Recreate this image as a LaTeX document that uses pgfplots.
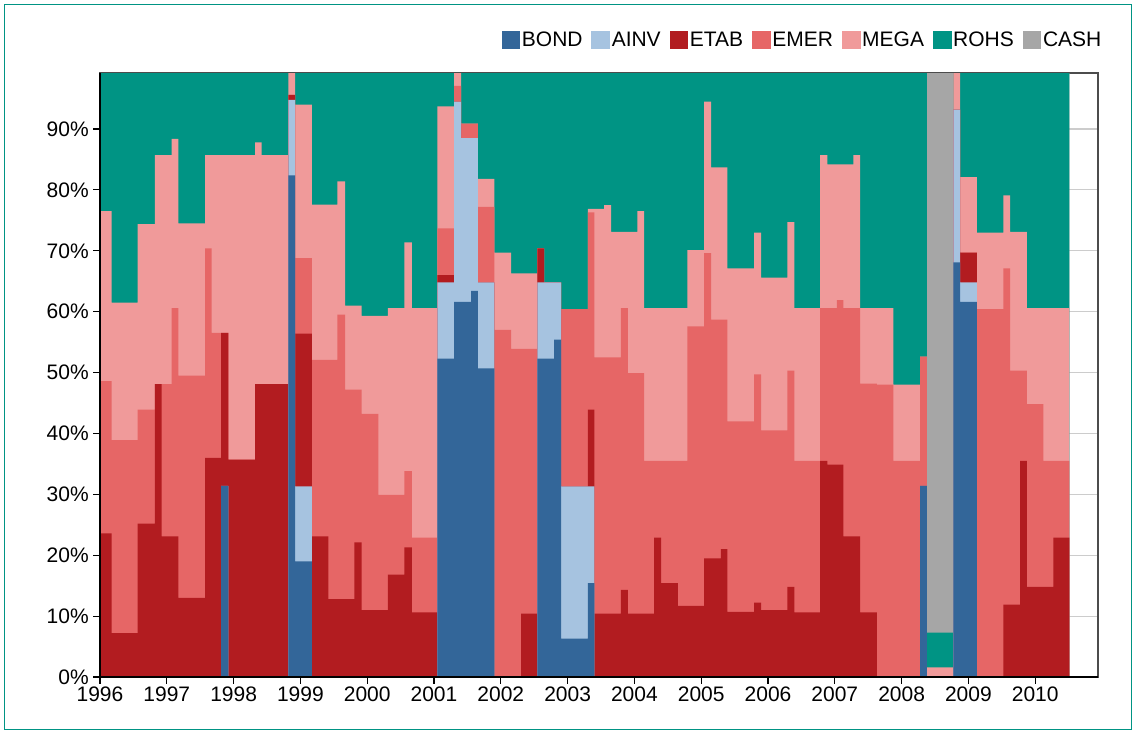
\documentclass[border=0pt]{standalone}
\usepackage{fontspec}
\setmainfont{Liberation Sans}
\usepackage{pgfplots}
\usepackage{pgfplotstable}
\pgfplotsset{compat=1.18}
\definecolor{cBOND}{RGB}{51,102,153}
\definecolor{cAINV}{RGB}{166,195,224}
\definecolor{cETAB}{RGB}{178,28,32}
\definecolor{cEMER}{RGB}{230,102,102}
\definecolor{cMEGA}{RGB}{240,154,154}
\definecolor{cROHS}{RGB}{0,148,132}
\definecolor{cCASH}{RGB}{166,166,166}

\pgfplotstableread{
x        bond ainv etab emer mega rohs cash
1996.000 0    0    23.6 25.0 27.9 23.5 0
1996.175 0    0    7.2  31.7 22.6 38.5 0
1996.564 0    0    25.2 18.7 30.5 25.6 0
1996.823 0    0    48.1 0    37.6 14.3 0
1996.924 0    0    23.1 25.0 37.6 14.3 0
1997.074 0    0    23.1 37.5 27.8 11.6 0
1997.172 0    0    13.0 36.5 25.0 25.5 0
1997.572 0    0    36.0 34.4 15.3 14.3 0
1997.672 0    0    36.0 20.5 29.2 14.3 0
1997.812 31.4 0    25.1 0    29.2 14.3 0
1997.921 0    0    35.7 0    50.0 14.3 0
1998.321 0    0    48.1 0    39.7 12.2 0
1998.421 0    0    48.1 0    37.6 14.3 0
1998.819 82.4 12.4 0.8  0    4.4  0    0
1998.920 19.0 12.3 25.1 12.4 25.2 6.0  0
1999.170 0    0    23.1 29.0 25.5 22.4 0
1999.418 0    0    12.8 39.3 25.5 22.4 0
1999.553 0    0    12.8 46.7 21.9 18.6 0
1999.668 0    0    12.8 34.4 13.8 39.0 0
1999.807 0    0    22.1 25.1 13.8 39.0 0
1999.918 0    0    11.0 32.2 16.1 40.7 0
2000.167 0    0    11.0 18.9 29.4 40.7 0
2000.308 0    0    16.8 13.1 30.7 39.4 0
2000.556 0    0    21.3 12.5 37.6 28.6 0
2000.667 0    0    10.6 12.3 37.7 39.4 0
2001.050 52.3 12.5 1.2  7.7  20.0 6.3  0
2001.300 61.6 32.9 0    2.6  2.9  0    0
2001.405 61.6 26.9 0    2.4  0    9.1  0
2001.555 63.4 25.1 0    2.4  0    9.1  0
2001.655 50.7 14.1 0    12.4 4.6  18.2 0
2001.904 0    0    0    57.0 12.7 30.3 0
2002.154 0    0    0    53.9 12.4 33.7 0
2002.303 0    0    10.4 43.5 12.4 33.7 0
2002.547 52.3 12.5 5.6  0    0    29.6 0
2002.648 52.3 12.5 0    0    0    35.2 0
2002.797 55.4 9.4  0    0    0    35.2 0
2002.902 6.3  25.0 0    29.1 0    39.6 0
2003.302 15.4 15.9 12.6 32.4 0.6  23.1 0
2003.401 0    0    10.4 42.1 24.4 23.1 0
2003.546 0    0    10.4 42.1 25.0 22.5 0
2003.651 0    0    10.4 42.1 20.6 26.9 0
2003.796 0    0    14.3 46.3 12.5 26.9 0
2003.901 0    0    10.4 39.5 23.2 26.9 0
2004.045 0    0    10.4 39.5 26.6 23.5 0
2004.145 0    0    10.4 25.1 25.1 39.4 0
2004.295 0    0    22.9 12.6 25.1 39.4 0
2004.400 0    0    15.4 20.1 25.1 39.4 0
2004.650 0    0    11.7 23.8 25.1 39.4 0
2004.793 0    0    11.7 45.9 12.5 29.9 0
2005.043 0    0    19.5 50.1 24.9 5.5  0
2005.148 0    0    19.5 39.2 25.0 16.3 0
2005.293 0    0    21.0 37.7 25.0 16.3 0
2005.392 0    0    10.7 31.3 25.1 32.9 0
2005.792 0    0    12.2 37.5 23.3 27.0 0
2005.897 0    0    11.0 29.5 25.1 34.4 0
2006.290 0    0    14.8 35.5 24.4 25.3 0
2006.395 0    0    10.6 24.9 25.1 39.4 0
2006.780 0    0    35.5 25.1 25.1 14.3 0
2006.889 0    0    34.9 25.7 23.6 15.8 0
2007.030 0    0    34.9 27.0 22.3 15.8 0
2007.129 0    0    23.1 37.5 23.6 15.8 0
2007.279 0    0    23.1 37.5 25.1 14.3 0
2007.379 0    0    10.6 37.6 12.4 39.4 0
2007.629 0    0    0    48.0 12.6 39.4 0
2007.878 0    0    0    35.5 12.5 52.0 0
2008.277 31.4 0    0    21.2 0    47.4 0
2008.378 0    0    0    0    1.6  5.7  92.7
2008.776 68.1 25.1 0    0    6.8  0    0
2008.876 61.6 3.2  4.9  0    12.4 17.9 0
2009.126 0    0    0    60.4 12.6 27.0 0
2009.525 0    0    11.9 55.2 12.0 20.9 0
2009.625 0    0    11.9 38.4 22.8 26.9 0
2009.775 0    0    35.5 14.8 22.8 26.9 0
2009.875 0    0    14.8 30.0 15.8 39.4 0
2010.123 0    0    14.8 20.7 25.1 39.4 0
2010.273 0    0    22.9 12.6 25.1 39.4 0
2010.513 0    0    22.9 12.6 25.1 39.4 0
}\data

\begin{document}
\begin{tikzpicture}
\begin{axis}[
  scale only axis, width=748.5bp, height=453bp,
  at={(0,0)}, anchor=south west,
  xmin=1996, xmax=2010.94, ymin=0, ymax=99.2,
  xtick={1996,1997,1998,1999,2000,2001,2002,2003,2004,2005,2006,2007,2008,2009,2010},
  xticklabels={1996,1997,1998,1999,2000,2001,2002,2003,2004,2005,2006,2007,2008,2009,2010},
  ytick={0,10,20,30,40,50,60,70,80,90},
  yticklabels={0\%,10\%,20\%,30\%,40\%,50\%,60\%,70\%,80\%,90\%},
  /pgf/number format/assume math mode=true,
  tick align=outside, xtick pos=bottom, ytick pos=left,
  major tick length=5bp,
  tick style={black, line width=0.8bp},
  ymajorgrids, grid style={gray!40, line width=0.8bp},
  axis line style={gray!60!black, line width=0.8bp},
  ticklabel style={font=\fontsize{15.8}{17}\selectfont},
  xticklabel style={yshift=1bp},
  legend columns=7,
  legend image code/.code={\path[#1,draw=none] (0bp,-7bp) rectangle (14bp,7bp);},
  legend style={draw=none, fill=none, inner sep=0pt, outer sep=0pt,
    at={(1.005,1.0546)}, anchor=east,
    font=\fontsize{15.8}{18}\selectfont,
    nodes={inner xsep=1.2bp, inner ysep=1bp},
    /tikz/every even column/.append style={column sep=5.5bp}},
]
\addlegendimage{fill=cBOND}\addlegendentry{BOND}
\addlegendimage{fill=cAINV}\addlegendentry{AINV}
\addlegendimage{fill=cETAB}\addlegendentry{ETAB}
\addlegendimage{fill=cEMER}\addlegendentry{EMER}
\addlegendimage{fill=cMEGA}\addlegendentry{MEGA}
\addlegendimage{fill=cROHS}\addlegendentry{ROHS}
\addlegendimage{fill=cCASH}\addlegendentry{CASH}

\addplot[forget plot, const plot, fill=cCASH, draw=none] table[x=x, y expr=\thisrow{bond}+\thisrow{ainv}+\thisrow{etab}+\thisrow{emer}+\thisrow{mega}+\thisrow{rohs}+\thisrow{cash}] {\data} \closedcycle;
\addplot[forget plot, const plot, fill=cROHS, draw=none] table[x=x, y expr=\thisrow{bond}+\thisrow{ainv}+\thisrow{etab}+\thisrow{emer}+\thisrow{mega}+\thisrow{rohs}] {\data} \closedcycle;
\addplot[forget plot, const plot, fill=cMEGA, draw=none] table[x=x, y expr=\thisrow{bond}+\thisrow{ainv}+\thisrow{etab}+\thisrow{emer}+\thisrow{mega}] {\data} \closedcycle;
\addplot[forget plot, const plot, fill=cEMER, draw=none] table[x=x, y expr=\thisrow{bond}+\thisrow{ainv}+\thisrow{etab}+\thisrow{emer}] {\data} \closedcycle;
\addplot[forget plot, const plot, fill=cETAB, draw=none] table[x=x, y expr=\thisrow{bond}+\thisrow{ainv}+\thisrow{etab}] {\data} \closedcycle;
\addplot[forget plot, const plot, fill=cAINV, draw=none] table[x=x, y expr=\thisrow{bond}+\thisrow{ainv}] {\data} \closedcycle;
\addplot[forget plot, const plot, fill=cBOND, draw=none] table[x=x, y=bond] {\data} \closedcycle;
\end{axis}
\draw[black, line width=1.5bp] (current axis.north west) -- (current axis.south west) -- (current axis.south east);
\pgfresetboundingbox
\path[use as bounding box] (-75bp,-42.75bp) rectangle (777bp,507.75bp);
\draw[cROHS, line width=1bp] (-71.5bp,-39.25bp) rectangle (773.5bp,504.25bp);
\end{tikzpicture}
\end{document}
